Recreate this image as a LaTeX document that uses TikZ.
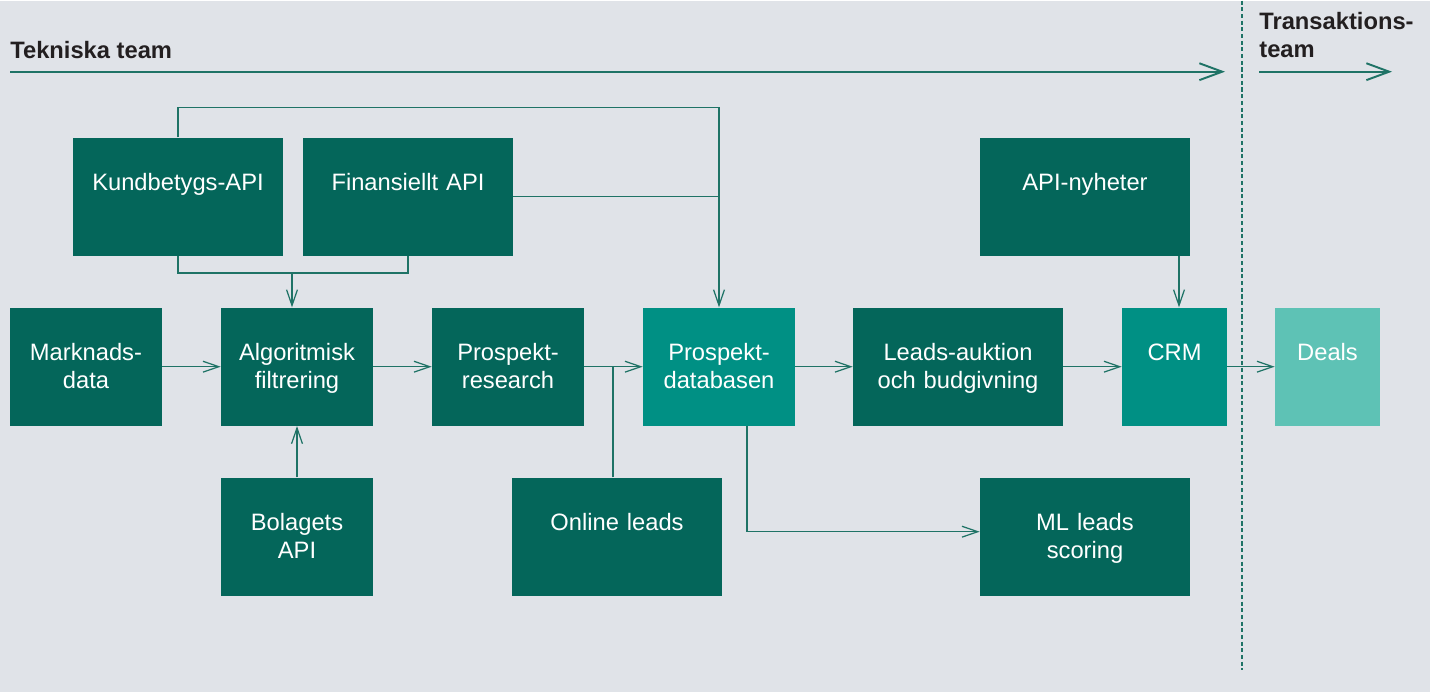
\documentclass[tikz,border=0pt]{standalone}
\usepackage{fontspec}
\setmainfont{Liberation Sans}
\usepackage{xcolor}
\usetikzlibrary{arrows.meta, positioning}
\definecolor{canvas}{HTML}{E0E3E8}
\definecolor{deepgreen}{HTML}{04665A}
\definecolor{midteal}{HTML}{009084}
\definecolor{lightteal}{HTML}{5EC2B5}
\definecolor{linecol}{HTML}{1F7366}
\definecolor{ink}{HTML}{231F20}
\tikzstyle{box} = [rectangle, minimum width=3.04cm, minimum height=2.36cm, text width=2.9cm, align=center, inner sep=0pt, text height=12pt, text depth=18.8pt, fill=deepgreen, text=white, font=\fontsize{13.5}{16}\selectfont]
\tikzstyle{widebox} = [box, minimum width=4.2cm, text width=4cm]
\tikzstyle{smallbox} = [box, minimum width=2.1cm, text width=2cm]
\tikzstyle{arrow} = [draw=linecol, line width=0.7pt, -{Straight Barb[length=9pt,width=6.2pt]}]
\tikzstyle{link} = [draw=linecol, line width=0.7pt]
\tikzstyle{teamarrow} = [draw=linecol, line width=1.1pt, -{Straight Barb[length=13pt,width=9.6pt]}]
\tikzstyle{teamlabel} = [font=\bfseries\fontsize{13.5}{16}\selectfont, text=ink, inner sep=0pt]
\tikzstyle{divider} = [draw=linecol, line width=0.8pt, dash pattern=on 2.3pt off 1.5pt]

\begin{document}
\begin{tikzpicture}[x=0.02cm, y=-0.02cm]
    % Canvas
    \fill[canvas] (0,0) rectangle (1430,691);

    % Team headers
    \node[teamlabel, anchor=base west] (tekniska) at (10,58) {Tekniska team};
    \node[teamlabel, anchor=north west, align=left] (transaktion) at (1259,11.5) {Transaktions-\\team};
    \coordinate (tekstart) at (10,71);
    \coordinate (tekend) at (1225,71);
    \coordinate (transstart) at (1259,71);
    \coordinate (transend) at (1392,71);
    \coordinate (divtop) at (1242,0);
    \coordinate (divbot) at (1242,669);
    \draw[teamarrow] (tekstart) -- (tekend);
    \draw[teamarrow] (transstart) -- (transend);
    \draw[divider] (divtop) -- (divbot);

    % Sources
    \node[widebox] (kund) at (178,196) {Kundbetygs-API};
    \node[widebox] (finans) at (408,196) {Finansiellt API};
    \node[widebox] (nyheter) at (1085,196) {API-nyheter};

    % Main chain
    \node[box] (marknad) at (86,366) {Marknads-\\data};
    \node[box] (algo) at (297,366) {Algoritmisk\\filtrering};
    \node[box] (research) at (508,366) {Prospekt-\\research};
    \node[box, fill=midteal] (databas) at (719,366) {Prospekt-\\databasen};
    \node[widebox] (auktion) at (958,366) {Leads-auktion\\och budgivning};
    \node[smallbox, fill=midteal] (crm) at (1174.5,366) {CRM};
    \node[smallbox, fill=lightteal] (deals) at (1327.5,366) {Deals};

    % Lower row
    \node[box] (bolag) at (297,536) {Bolagets\\API};
    \node[widebox] (online) at (617,536) {Online leads};
    \node[widebox] (mlscore) at (1085,536) {ML leads\\scoring};

    % Helper points
    \coordinate (merge) at (292,272);
    \coordinate (tap) at (613,366);
    \coordinate (newsdrop) at (1179,255);

    % Arrows
    \draw[arrow] (kund.north) -- ++(0,-30) -| (databas.north);
    \draw[link] (finans.east) -- (finans.east -| databas.north);
    \draw[link] (kund.south) -- ++(0,17) -| (finans.south);
    \draw[arrow] (merge) -- (merge |- algo.north);
    \draw[arrow] (marknad) -- (algo);
    \draw[arrow] (bolag) -- (algo);
    \draw[arrow] (algo) -- (research);
    \draw[arrow] (research) -- (databas);
    \draw[link] (online.north -| tap) -- (tap);
    \draw[arrow] (databas) -- (auktion);
    \draw[arrow] ([xshift=0.56cm]databas.south) |- ([yshift=0.1cm]mlscore.west);
    \draw[arrow] (auktion) -- (crm);
    \draw[arrow] (newsdrop) -- (newsdrop |- crm.north);
    \draw[arrow] (crm) -- (deals);
\end{tikzpicture}
\end{document}
